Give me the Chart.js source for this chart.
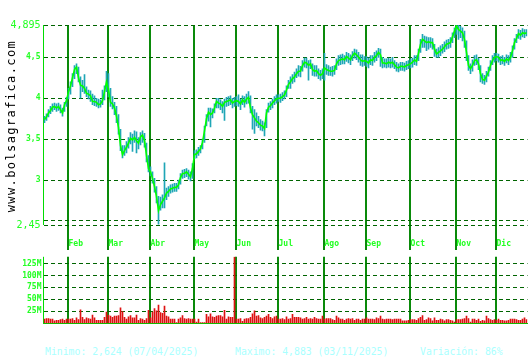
<!DOCTYPE html>
<html lang="es">
<head>
<meta charset="UTF-8">
<title>bolsagrafica.com</title>
<script src="https://cdn.jsdelivr.net/npm/chart.js@4"></script>
<style>
    body { margin: 0; background: #fff; width: 530px; height: 360px; position: relative; overflow: hidden; }
    #priceChart { position: absolute; left: 0; top: 0; }
    #volChart { position: absolute; left: 0; top: 250px; }
    .site {
        position: absolute; left: -78px; top: 118px; width: 180px; height: 16px; line-height: 16px;
        text-align: center; transform: rotate(-90deg);
        font: 12px "DejaVu Sans Mono", monospace; letter-spacing: 1.4px; color: #000;
    }
    .stats { position: absolute; top: 346px; font: 9.8px "DejaVu Sans Mono", monospace; color: #aaffff; line-height: 12px; white-space: pre; }
</style>
</head>
<body>

<canvas id="priceChart" width="530" height="250"></canvas>
<canvas id="volChart" width="530" height="80"></canvas>
<div class="site">www.bolsagrafica.com</div>
<div class="stats" style="left:45px">Minimo: 2,624 (07/04/2025)</div>
<div class="stats" style="left:235px">Maximo: 4,883 (03/11/2025)</div>
<div class="stats" style="left:420px">Variación: 86%</div>

<script>
    // month labels and the bar index where each month starts
    const monthNames = ['Feb', 'Mar', 'Abr', 'May', 'Jun', 'Jul', 'Ago', 'Sep', 'Oct', 'Nov', 'Dic'];
    const monthStarts = [12, 32, 53, 75, 96, 117, 140, 161, 183, 206, 226];

    const priceTicks = [2.45, 2.5, 3, 3.5, 4, 4.5, 4.895];
    const volumeTicks = [25, 50, 75, 100, 125]; // millions

    // daily close
    const closes = [
        3.74, 3.77, 3.82, 3.85, 3.89, 3.90, 3.88, 3.90, 3.86, 3.82, 3.92, 3.97,
        4.08, 4.15, 4.25, 4.35, 4.38, 4.25, 4.16, 4.15, 4.12, 4.06, 4.05, 4.03, 3.96, 3.96, 3.95, 3.92, 3.93, 3.97, 4.08, 4.20,
        4.10, 3.95, 3.93, 3.88, 3.78, 3.64, 3.42, 3.31, 3.36, 3.40, 3.45, 3.51, 3.49, 3.52, 3.48, 3.45, 3.53, 3.55, 3.48, 3.30, 3.14,
        3.10, 3.02, 2.92, 2.80, 2.624, 2.70, 2.74, 2.78, 2.84, 2.86, 2.89, 2.90, 2.91, 2.91, 2.94, 3.03, 3.08, 3.08, 3.10, 3.07, 3.04, 3.14,
        3.31, 3.32, 3.35, 3.38, 3.46, 3.60, 3.75, 3.83, 3.80, 3.82, 3.88, 3.96, 3.94, 3.93, 3.90, 3.95, 3.96, 3.97, 3.98, 3.94, 3.96,
        3.97, 3.96, 3.93, 3.98, 3.95, 3.99, 4.01, 3.88, 3.80, 3.76, 3.72, 3.70, 3.67, 3.66, 3.63, 3.82, 3.89, 3.91, 3.94, 3.97, 3.99,
        4.00, 4.00, 4.02, 4.04, 4.10, 4.17, 4.20, 4.24, 4.26, 4.30, 4.33, 4.33, 4.40, 4.44, 4.43, 4.40, 4.42, 4.35, 4.33, 4.34, 4.30, 4.28, 4.30,
        4.37, 4.35, 4.34, 4.33, 4.33, 4.34, 4.42, 4.46, 4.47, 4.48, 4.47, 4.51, 4.49, 4.47, 4.52, 4.55, 4.53, 4.50, 4.47, 4.45, 4.46,
        4.45, 4.43, 4.47, 4.46, 4.50, 4.52, 4.56, 4.53, 4.43, 4.43, 4.42, 4.44, 4.43, 4.44, 4.41, 4.38, 4.37, 4.39, 4.39, 4.38, 4.40, 4.41,
        4.42, 4.44, 4.47, 4.45, 4.55, 4.66, 4.72, 4.70, 4.68, 4.69, 4.68, 4.68, 4.60, 4.54, 4.56, 4.58, 4.60, 4.63, 4.66, 4.67, 4.68, 4.75, 4.82,
        4.883, 4.84, 4.82, 4.80, 4.72, 4.56, 4.40, 4.36, 4.40, 4.46, 4.47, 4.42, 4.30, 4.23, 4.22, 4.27, 4.32, 4.40, 4.46, 4.50,
        4.51, 4.50, 4.46, 4.47, 4.45, 4.48, 4.46, 4.50, 4.58, 4.68, 4.73, 4.79, 4.77, 4.80, 4.79, 4.80
    ];

    const highs = [
        3.78, 3.81, 3.86, 3.90, 3.93, 3.94, 3.93, 3.94, 3.92, 3.88, 3.95, 4.01,
        4.12, 4.20, 4.30, 4.40, 4.42, 4.38, 4.26, 4.22, 4.29, 4.14, 4.10, 4.09, 4.05, 4.03, 4.00, 3.99, 3.98, 4.10, 4.15, 4.33,
        4.30, 4.12, 4.02, 3.95, 3.90, 3.80, 3.62, 3.42, 3.42, 3.47, 3.52, 3.58, 3.56, 3.60, 3.59, 3.52, 3.58, 3.60, 3.57, 3.45, 3.30,
        3.16, 3.10, 3.02, 2.92, 2.80, 2.79, 2.82, 3.21, 2.90, 2.92, 2.94, 2.95, 2.96, 2.96, 3.00, 3.08, 3.12, 3.13, 3.14, 3.12, 3.10, 3.20,
        3.36, 3.37, 3.40, 3.42, 3.50, 3.66, 3.80, 3.88, 3.88, 3.87, 3.93, 4.00, 4.00, 3.98, 3.96, 3.99, 4.01, 4.02, 4.03, 4.00, 4.01,
        4.02, 4.04, 3.99, 4.03, 4.02, 4.05, 4.08, 4.03, 3.90, 3.86, 3.82, 3.78, 3.74, 3.72, 3.70, 3.86, 3.94, 3.96, 3.99, 4.02, 4.04,
        4.04, 4.05, 4.07, 4.09, 4.15, 4.22, 4.26, 4.29, 4.32, 4.36, 4.40, 4.39, 4.46, 4.49, 4.49, 4.46, 4.47, 4.42, 4.40, 4.40, 4.36, 4.34, 4.36,
        4.55, 4.41, 4.40, 4.38, 4.39, 4.40, 4.48, 4.52, 4.53, 4.54, 4.52, 4.56, 4.55, 4.53, 4.57, 4.60, 4.59, 4.56, 4.53, 4.53, 4.51,
        4.51, 4.49, 4.52, 4.52, 4.56, 4.58, 4.61, 4.60, 4.50, 4.48, 4.48, 4.49, 4.48, 4.50, 4.46, 4.44, 4.42, 4.44, 4.44, 4.43, 4.45, 4.46,
        4.48, 4.49, 4.52, 4.52, 4.60, 4.72, 4.78, 4.76, 4.75, 4.74, 4.74, 4.73, 4.66, 4.60, 4.62, 4.64, 4.66, 4.69, 4.71, 4.72, 4.74, 4.80, 4.86,
        4.895, 4.89, 4.88, 4.86, 4.82, 4.70, 4.52, 4.42, 4.47, 4.52, 4.53, 4.49, 4.40, 4.30, 4.28, 4.33, 4.38, 4.46, 4.52, 4.55,
        4.55, 4.54, 4.51, 4.52, 4.50, 4.53, 4.52, 4.56, 4.64, 4.73, 4.78, 4.84, 4.83, 4.85, 4.84, 4.84
    ];

    const lows = [
        3.70, 3.73, 3.77, 3.81, 3.84, 3.86, 3.84, 3.85, 3.82, 3.78, 3.84, 3.90,
        3.99, 4.05, 4.14, 4.24, 4.30, 4.20, 4.00, 4.08, 4.06, 4.02, 3.99, 3.96, 3.92, 3.91, 3.90, 3.88, 3.89, 3.92, 3.98, 4.08,
        4.02, 3.90, 3.87, 3.80, 3.70, 3.56, 3.36, 3.27, 3.30, 3.33, 3.39, 3.44, 3.35, 3.46, 3.33, 3.38, 3.43, 3.46, 3.40, 3.22, 3.10,
        3.05, 2.96, 2.85, 2.72, 2.46, 2.63, 2.66, 2.66, 2.76, 2.80, 2.84, 2.85, 2.86, 2.86, 2.89, 2.95, 3.02, 3.03, 3.04, 3.01, 2.99, 3.02,
        3.26, 3.27, 3.30, 3.33, 3.38, 3.46, 3.66, 3.72, 3.65, 3.76, 3.82, 3.88, 3.88, 3.86, 3.82, 3.73, 3.90, 3.91, 3.92, 3.88, 3.90,
        3.91, 3.90, 3.86, 3.92, 3.89, 3.93, 3.94, 3.82, 3.62, 3.57, 3.66, 3.64, 3.61, 3.60, 3.54, 3.64, 3.83, 3.86, 3.88, 3.92, 3.94,
        3.96, 3.95, 3.97, 3.99, 4.02, 4.12, 4.12, 4.18, 4.20, 4.25, 4.27, 4.26, 4.33, 4.38, 4.37, 4.22, 4.36, 4.28, 4.27, 4.27, 4.24, 4.22, 4.24,
        4.22, 4.29, 4.28, 4.28, 4.27, 4.29, 4.35, 4.40, 4.41, 4.42, 4.42, 4.45, 4.43, 4.41, 4.46, 4.49, 4.47, 4.44, 4.40, 4.39, 4.40,
        4.39, 4.37, 4.41, 4.40, 4.44, 4.46, 4.50, 4.39, 4.37, 4.38, 4.37, 4.38, 4.37, 4.38, 4.36, 4.33, 4.32, 4.34, 4.34, 4.33, 4.35, 4.36,
        4.37, 4.38, 4.41, 4.40, 4.46, 4.56, 4.62, 4.62, 4.58, 4.60, 4.62, 4.60, 4.51, 4.50, 4.50, 4.52, 4.55, 4.57, 4.60, 4.61, 4.62, 4.68, 4.74,
        4.78, 4.72, 4.74, 4.70, 4.62, 4.46, 4.34, 4.30, 4.33, 4.40, 4.41, 4.35, 4.20, 4.18, 4.17, 4.20, 4.27, 4.34, 4.41, 4.44,
        4.46, 4.44, 4.41, 4.42, 4.40, 4.43, 4.41, 4.44, 4.50, 4.60, 4.68, 4.73, 4.72, 4.75, 4.74, 4.76
    ];

    // daily volume, millions
    const volumes = [
        8.6, 9.8, 9.8, 8.6, 8.6, 4.9, 6.1, 6.1, 7.4, 8.6, 6.1, 8.6,
        8.6, 8.6, 9.8, 6.1, 11, 7.4, 28, 12.3, 7.4, 11, 9.8, 8.6, 17.2, 11, 6.1, 6.1, 6.1, 6.1, 12.3, 23.3,
        17.2, 14.7, 12.3, 14.7, 14.7, 16, 32, 24.5, 12.3, 8.6, 13.5, 16, 11, 11, 17.2, 6.1, 9.8, 8.6, 6.1, 9.8, 27,
        11, 23.3, 30.7, 25.8, 38, 22, 20.9, 35.6, 14.7, 13.5, 8.6, 8.6, 8.6, 1.5, 8.6, 11, 16, 9.8, 8.6, 9.8, 8.6, 8.6,
        8.6, 2.5, 8.6, 1.2, 1.2, 1.2, 18.4, 13.5, 19.6, 13.5, 12.3, 14.7, 16, 16, 13.5, 27, 8.6, 13.5, 12.3, 12.3, 139,
        8.6, 8.6, 9.8, 3.7, 8.6, 9.8, 9.8, 12.3, 19.6, 25.8, 14.7, 16, 11, 9.8, 12.3, 14.7, 18.4, 12.3, 9.8, 13.5, 14.7,
        8.6, 8.6, 9.8, 7.4, 13.5, 8.6, 9.8, 18.4, 12.3, 12.3, 12.3, 11, 8.6, 9.8, 12.3, 8.6, 9.8, 8.6, 12.3, 9.8, 8.6, 8.6, 14.7,
        8.6, 9.8, 9.8, 9.8, 7.4, 6.1, 14.7, 11, 8.6, 8.6, 6.1, 8.6, 9.8, 8.6, 9.8, 6.1, 8.6, 8.6, 6.1, 8.6, 8.6,
        11, 8.6, 8.6, 8.6, 7.4, 11, 9.8, 14.7, 8.6, 7.4, 8.6, 8.6, 8.6, 7.4, 8.6, 8.6, 8.6, 8.6, 4.9, 4.9, 4.9, 6.1,
        7.4, 7.4, 7.4, 6.1, 9.8, 12.3, 16, 6.1, 7.4, 11, 9.8, 4.9, 11, 6.1, 6.1, 8.6, 7.4, 4.9, 7.4, 7.4, 6.1, 4.9, 2.5,
        7.4, 7.4, 7.4, 8.6, 9.8, 14.7, 9.8, 2.5, 8.6, 8.6, 6.1, 8.6, 3.7, 6.1, 4.9, 14.7, 9.8, 7.4, 6.1, 7.4,
        6.1, 8.6, 6.1, 6.1, 4.9, 4.9, 6.1, 8.6, 8.6, 8.6, 7.4, 6.1, 6.1, 8.6, 11, 7.4
    ];

    const labels = closes.map((c, i) => {
        const m = monthStarts.indexOf(i);
        return m >= 0 ? monthNames[m] : '';
    });

    const NONE = 'rgba(0,0,0,0)';
    const MONTH_LINE = '#0a8a0a';
    const AXIS_LINE = '#00dd00';
    const DASH_LINE = '#006400';
    const LABEL = '#22ff22';

    // vertical lines: left axis at index 0, month starts, nothing else
    function monthGrid(ctx) {
        if (ctx.index === 0) return AXIS_LINE;
        return monthStarts.includes(ctx.index) ? MONTH_LINE : NONE;
    }

    // plot starts at 43.5 so that the 1px bars land on whole pixels
    const PLOT_LEFT = 43.5;

    new Chart(document.getElementById('priceChart'), {
        type: 'bar',
        data: {
            labels: labels,
            datasets: [
                { type: 'line', data: closes, borderColor: '#00ff00', borderWidth: 1.6, pointRadius: 0, tension: 0, order: 0 },
                { type: 'bar', data: lows.map((l, i) => [l, highs[i]]), backgroundColor: '#1fa6b6', barThickness: 1, order: 1 }
            ]
        },
        options: {
            responsive: false,
            animation: false,
            layout: { padding: { top: 25, right: 2.5, bottom: 0, left: 0 } },
            plugins: { legend: { display: false }, tooltip: { enabled: false } },
            scales: {
                x: {
                    grid: {
                        offset: true,
                        color: monthGrid,
                        lineWidth: ctx => ctx.index === 0 ? 1 : 2,
                        tickLength: 25,
                        tickWidth: 2,
                        tickColor: ctx => ctx.index === 0 ? NONE : monthGrid(ctx)
                    },
                    border: { display: false },
                    ticks: {
                        autoSkip: false, maxRotation: 0, minRotation: 0,
                        align: 'start', padding: -11, color: LABEL,
                        font: { family: 'DejaVu Sans Mono', size: 8, weight: 'bold' }
                    },
                    afterFit: s => { s.height = 25; }
                },
                y: {
                    min: 2.45,
                    max: 4.895,
                    afterBuildTicks: s => { s.ticks = priceTicks.map(v => ({ value: v })); },
                    afterFit: s => { s.width = PLOT_LEFT; },
                    grid: { color: DASH_LINE, lineWidth: 1, drawTicks: false, borderDash: [4, 3] },
                    border: { display: false, dash: [4, 3] },
                    ticks: {
                        padding: 3,
                        color: LABEL,
                        callback: v => v === 2.5 ? '' : String(v).replace('.', ','),
                        font: ctx => (ctx.tick && (ctx.tick.value === 2.45 || ctx.tick.value === 4.895))
                            ? { family: 'DejaVu Sans Mono', size: 10 }
                            : { family: 'DejaVu Sans Mono', size: 8, weight: 'bold' }
                    }
                }
            }
        }
    });

    new Chart(document.getElementById('volChart'), {
        type: 'bar',
        data: {
            labels: labels,
            datasets: [{ data: volumes, backgroundColor: '#dd1111', barThickness: 1 }]
        },
        options: {
            responsive: false,
            animation: false,
            layout: { padding: { top: 0, right: 2.5, bottom: 4, left: 0 } },
            plugins: { legend: { display: false }, tooltip: { enabled: false } },
            scales: {
                x: {
                    grid: { offset: true, color: monthGrid, lineWidth: ctx => ctx.index === 0 ? 1 : 2, drawTicks: false },
                    border: { display: true, color: '#00cc00', width: 1 },
                    ticks: { display: false },
                    afterFit: s => { s.height = 0; }
                },
                y: {
                    min: 0,
                    max: 139,
                    afterBuildTicks: s => { s.ticks = volumeTicks.map(v => ({ value: v })); },
                    afterFit: s => { s.width = PLOT_LEFT; },
                    grid: { color: DASH_LINE, lineWidth: 1, drawTicks: false, borderDash: [4, 3] },
                    border: { display: false, dash: [4, 3] },
                    ticks: {
                        padding: 2,
                        color: LABEL,
                        callback: v => v + 'M',
                        font: { family: 'DejaVu Sans Mono', size: 8, weight: 'bold' }
                    }
                }
            }
        }
    });
</script>

</body>
</html>
